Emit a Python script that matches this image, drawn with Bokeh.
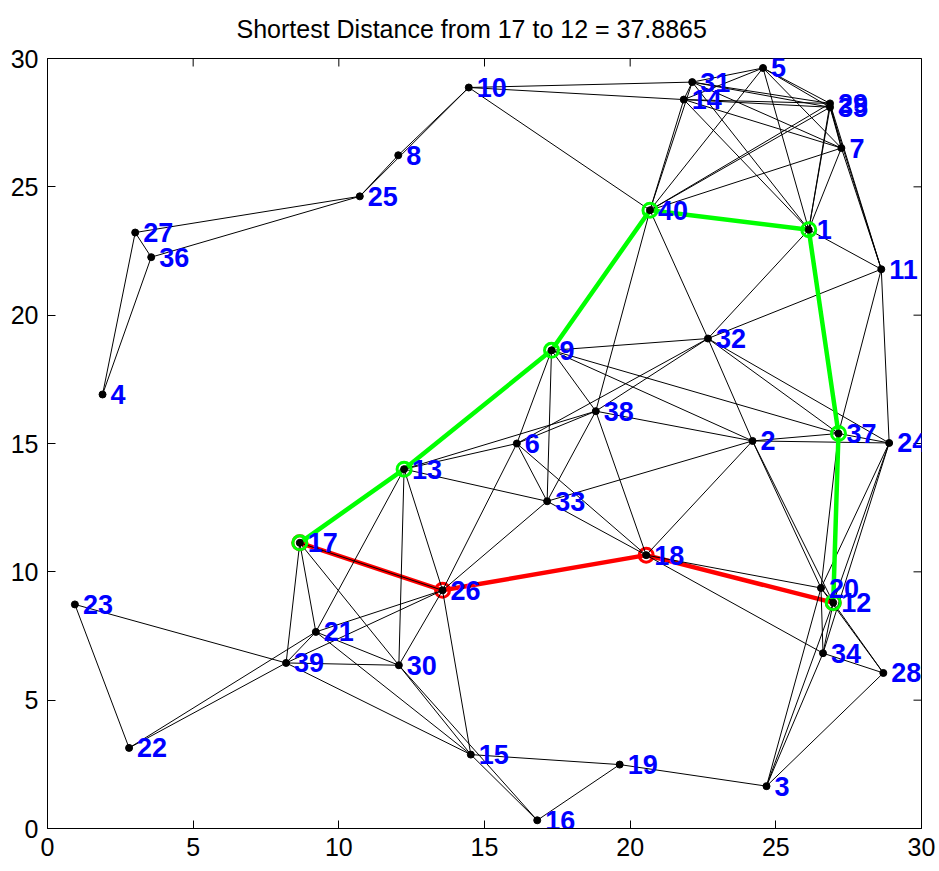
import math
from bokeh.plotting import figure
from bokeh.models import Range1d, FixedTicker, ColumnDataSource
from bokeh.embed import file_html
from bokeh.resources import INLINE
from bokeh.core.properties import value

# ---------------- data ----------------
node_ids = list(range(1, 41))
node_x = [26.13, 24.20, 24.68, 1.89, 24.56, 16.11, 27.25, 12.04, 17.30, 14.46,
          28.62, 26.97, 12.24, 21.84, 14.53, 16.81, 8.66, 20.55, 19.64, 26.55,
          9.21, 2.80, 0.94, 28.89, 10.72, 13.56, 3.01, 28.69, 26.86, 12.06,
          22.13, 22.67, 17.15, 26.62, 26.86, 3.56, 27.15, 18.82, 8.19, 20.68]
node_y = [23.33, 15.10, 1.65, 16.91, 29.63, 15.00, 26.51, 26.23, 18.63, 28.87,
          21.79, 8.80, 14.00, 28.40, 2.88, 0.32, 11.13, 10.65, 2.49, 9.37,
          7.66, 3.14, 8.73, 15.02, 24.63, 9.28, 23.22, 6.06, 28.25, 6.36,
          29.08, 19.09, 12.75, 6.83, 28.10, 22.26, 15.39, 16.26, 6.45, 24.09]

edge_from = [4, 4, 27, 27, 36, 25, 25, 8,
             10, 10, 10,
             31, 31, 14, 31, 31, 14, 14, 31, 14, 31, 14, 31, 14,
             5, 5, 5, 5, 5,
             29, 29, 35, 29, 35, 29, 35, 29, 35,
             7, 7, 7,
             40, 40, 40, 40,
             1, 1, 1,
             11, 11, 11,
             32, 32, 32, 32, 32, 32,
             9, 9, 9, 9, 9, 9,
             38, 38, 38, 38, 38,
             6, 6, 6, 6,
             33, 33, 33, 33,
             2, 2, 2, 2, 2,
             37, 37, 37,
             24, 24, 24,
             20, 20, 20, 20, 20,
             12, 12, 12,
             34, 34, 34,
             28,
             3, 19, 19, 15,
             13, 13, 13, 13,
             17, 17, 17, 17,
             26, 26, 26, 26,
             21, 21, 21, 21,
             39, 39, 39, 39,
             30, 30,
             22]
edge_to = [27, 36, 36, 25, 25, 8, 10, 10,
           31, 14, 40,
           14, 5, 5, 29, 35, 29, 35, 7, 7, 40, 40, 1, 1,
           29, 35, 7, 1, 40,
           35, 7, 7, 40, 40, 1, 1, 11, 11,
           40, 1, 11,
           1, 9, 32, 38,
           32, 11, 37,
           32, 37, 24,
           9, 38, 6, 2, 37, 24,
           13, 6, 38, 33, 2, 37,
           6, 13, 33, 18, 2,
           13, 33, 26, 18,
           13, 26, 18, 2,
           37, 24, 18, 20, 12,
           24, 12, 20,
           12, 20, 34,
           12, 18, 34, 28, 3,
           34, 28, 3,
           18, 28, 3,
           3,
           19, 15, 16, 16,
           17, 21, 30, 26,
           26, 21, 39, 30,
           21, 39, 30, 15,
           39, 30, 15, 22,
           30, 15, 22, 23,
           15, 16,
           23]

green_path = [17, 13, 9, 40, 1, 37, 12]
red_path = [17, 26, 18, 12]
title_text = "Shortest Distance from 17 to 12 = 37.8865"
axis_ticks = [0, 5, 10, 15, 20, 25, 30]

FONT = "Liberation Sans"

# ---------------- figure ----------------
p = figure(width=939, height=862, output_backend="svg", toolbar_location=None,
           x_range=Range1d(axis_ticks[0], axis_ticks[-1]),
           y_range=Range1d(axis_ticks[0], axis_ticks[-1]),
           min_border_left=47, min_border_right=18, min_border_top=58,
           min_border_bottom=34)
p.background_fill_color = "white"
p.border_fill_color = "white"
p.outline_line_color = "black"
p.outline_line_width = 1
p.xgrid.visible = False
p.ygrid.visible = False

x_axis = p.xaxis[0]
y_axis = p.yaxis[0]
for ax in (x_axis, y_axis):
    ax.ticker = FixedTicker(ticks=axis_ticks)
    ax.major_tick_in = 8
    ax.major_tick_out = 0
    ax.minor_tick_line_color = None
    ax.axis_line_color = "black"
    ax.major_tick_line_color = "black"
    ax.major_label_text_font = FONT
    ax.major_label_text_font_size = "25px"
    ax.major_label_text_color = "black"
x_axis.major_label_standoff = 9
y_axis.major_label_standoff = 9

p.title.text = title_text
p.title.align = "left"
p.title.offset = 189
p.title.vertical_align = "top"
p.title.standoff = 27
p.title.text_font = FONT
p.title.text_font_size = "25px"
p.title.text_font_style = "normal"
p.title.text_color = "black"

# inward ticks on the top and right edges of the box
top_val = axis_ticks[-1]
p.scatter(axis_ticks, [top_val] * len(axis_ticks), marker="dash", size=16,
          angle=math.pi / 2, line_color="black", line_width=1)
p.scatter([top_val] * len(axis_ticks), axis_ticks, marker="dash", size=16,
          angle=0, line_color="black", line_width=1)

idx = {n: i for i, n in enumerate(node_ids)}

# red path (below the graph edges)
rx = [node_x[idx[n]] for n in red_path]
ry = [node_y[idx[n]] for n in red_path]
p.line(rx, ry, line_color="#ff0000", line_width=4.5)
p.scatter(rx, ry, marker="circle", size=14, fill_color=None,
          line_color="#ff0000", line_width=3)

# graph edges
xs = [[node_x[idx[a]], node_x[idx[b]]] for a, b in zip(edge_from, edge_to)]
ys = [[node_y[idx[a]], node_y[idx[b]]] for a, b in zip(edge_from, edge_to)]
p.multi_line(xs, ys, line_color="black", line_width=1)

# green path
gx = [node_x[idx[n]] for n in green_path]
gy = [node_y[idx[n]] for n in green_path]
p.line(gx, gy, line_color="#00ff00", line_width=4.5)
p.scatter(gx, gy, marker="circle", size=14, fill_color=None,
          line_color="#00ff00", line_width=3)

# nodes
p.scatter(node_x, node_y, marker="circle", size=7, fill_color="black",
          line_color="black")

src = ColumnDataSource(dict(x=node_x, y=node_y, t=[str(n) for n in node_ids]))
p.text(x="x", y="y", text="t", source=src, x_offset=8, text_baseline="middle",
       text_align="left", text_color="#0000ff", text_font=value(FONT),
       text_font_style="bold", text_font_size="27px")

open("out.html", "w").write(file_html(p, INLINE))
